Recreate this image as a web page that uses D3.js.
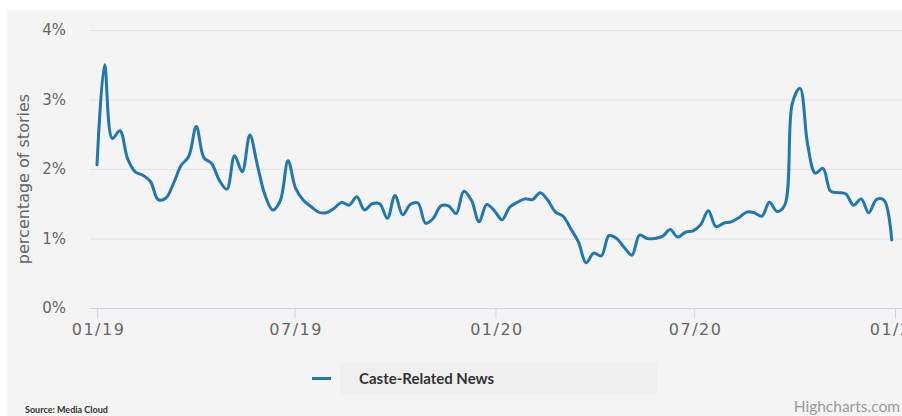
<!DOCTYPE html>
<html>
<head>
<meta charset="utf-8">
<script src="https://cdnjs.cloudflare.com/ajax/libs/d3/7.8.5/d3.min.js"></script>
<style>
    body { margin: 0; background: #ffffff; }
    svg { display: block; }
</style>
</head>
<body>
<div id="chart"></div>
<script>
// weekly share of stories, first point 01/01/2019
var seriesName = "Caste-Related News";
var pointStart = new Date(2019, 0, 1);
var pointIntervalDays = 7;
var share = [
    2.06, 3.50, 2.44, 2.55, 2.15, 1.96, 1.91, 1.82, 1.56, 1.58,
    1.79, 2.05, 2.18, 2.61, 2.16, 2.08, 1.84, 1.71, 2.19, 1.96,
    2.49, 2.05, 1.62, 1.41, 1.55, 2.12, 1.72, 1.55, 1.46, 1.38,
    1.37, 1.43, 1.52, 1.48, 1.60, 1.41, 1.50, 1.50, 1.29, 1.62,
    1.34, 1.49, 1.51, 1.22, 1.29, 1.47, 1.47, 1.36, 1.68, 1.55,
    1.24, 1.49, 1.40, 1.27, 1.45, 1.52, 1.57, 1.56, 1.66, 1.55,
    1.38, 1.32, 1.14, 0.95, 0.65, 0.79, 0.75, 1.04, 1.00, 0.87,
    0.76, 1.05, 1.00, 1.00, 1.03, 1.13, 1.02, 1.09, 1.11, 1.20,
    1.40, 1.17, 1.22, 1.24, 1.30, 1.38, 1.37, 1.32, 1.52, 1.39,
    1.48, 2.95, 3.16, 2.35, 1.94, 2.01, 1.68, 1.66, 1.64, 1.48,
    1.57, 1.37, 1.56, 1.55, 0.98
];
var xTickDates = [
    new Date(2019, 0, 1), new Date(2019, 6, 1), new Date(2020, 0, 1),
    new Date(2020, 6, 1), new Date(2021, 0, 1)
];
var yTicks = [0, 1, 2, 3, 4];

var width = 902,
    height = 416;

var data = share.map(function(v, i) {
    return {
        date: d3.timeDay.offset(pointStart, i * pointIntervalDays),
        value: v
    };
});

var svg = d3.select("#chart")
    .append("svg")
    .attr("width", width)
    .attr("height", height)
    .style("font-family", "'DejaVu Sans', sans-serif");

svg.append("rect")
    .attr("x", 7)
    .attr("y", 10)
    .attr("width", width - 7)
    .attr("height", height - 10)
    .attr("fill", "#f4f4f4");

var x = d3.scaleTime()
    .domain([new Date(2019, 0, 1), new Date(2021, 0, 1)])
    .range([97, 895]);

var y = d3.scaleLinear()
    .domain([0, 4])
    .range([308, 30]);

// grid
svg.append("g")
    .selectAll("line")
    .data(yTicks.slice(1))
    .enter().append("line")
    .attr("x1", 90)
    .attr("x2", width)
    .attr("y1", function(d) { return y(d) + 0.5; })
    .attr("y2", function(d) { return y(d) + 0.5; })
    .attr("stroke", "#e3e3e3")
    .attr("stroke-width", 1);

// y labels
svg.append("g")
    .selectAll("text")
    .data(yTicks)
    .enter().append("text")
    .attr("x", 66)
    .attr("y", function(d) { return y(d) + 5; })
    .attr("text-anchor", "end")
    .attr("fill", "#666666")
    .style("font-size", "15px")
    .text(function(d) { return d + "%"; });

svg.append("text")
    .attr("transform", "translate(29,179) rotate(-90)")
    .attr("text-anchor", "middle")
    .attr("fill", "#666666")
    .style("font-size", "16px")
    .text("percentage of stories");

// x axis
var xAxis = d3.axisBottom(x)
    .tickValues(xTickDates)
    .tickFormat(d3.timeFormat("%m/%y"))
    .tickSize(10)
    .tickPadding(5);

var gx = svg.append("g")
    .attr("transform", "translate(0,308.5)")
    .call(xAxis);

gx.select(".domain").remove();
gx.insert("line", ":first-child")
    .attr("x1", 90)
    .attr("x2", width)
    .attr("stroke", "#ccd6eb");
gx.selectAll(".tick line").attr("stroke", "#ccd6eb");
gx.selectAll(".tick text")
    .attr("fill", "#666666")
    .attr("dx", 1)
    .style("font-family", "'DejaVu Sans', sans-serif")
    .style("font-size", "16px")
    .style("letter-spacing", "1.5px");

// series
var line = d3.line()
    .x(function(d) { return x(d.date); })
    .y(function(d) { return y(d.value); })
    .curve(d3.curveCatmullRom.alpha(0.5));

svg.append("path")
    .datum(data)
    .attr("d", line)
    .attr("fill", "none")
    .attr("stroke", "#1f77b4")
    .attr("stroke-width", 3)
    .attr("stroke-linejoin", "round")
    .attr("stroke-linecap", "round");

// legend
var legend = svg.append("g");
legend.append("rect")
    .attr("x", 340)
    .attr("y", 362)
    .attr("width", 317)
    .attr("height", 33)
    .attr("fill", "#efefef");
legend.append("line")
    .attr("x1", 312)
    .attr("x2", 331)
    .attr("y1", 378.5)
    .attr("y2", 378.5)
    .attr("stroke", "#1f77b4")
    .attr("stroke-width", 3);
legend.append("text")
    .attr("x", 359)
    .attr("y", 384)
    .attr("fill", "#333333")
    .style("font-family", "Lato, sans-serif")
    .style("font-weight", "bold")
    .style("font-size", "15px")
    .text(seriesName);

svg.append("text")
    .attr("x", 25)
    .attr("y", 413)
    .attr("fill", "#333333")
    .style("font-family", "Lato, sans-serif")
    .style("font-weight", "bold")
    .style("font-size", "9px")
    .text("Source: Media Cloud");

svg.append("text")
    .attr("x", 900)
    .attr("y", 412)
    .attr("text-anchor", "end")
    .attr("fill", "#999999")
    .style("font-family", "Lato, sans-serif")
    .style("font-size", "15.5px")
    .text("Highcharts.com");
</script>
</body>
</html>
